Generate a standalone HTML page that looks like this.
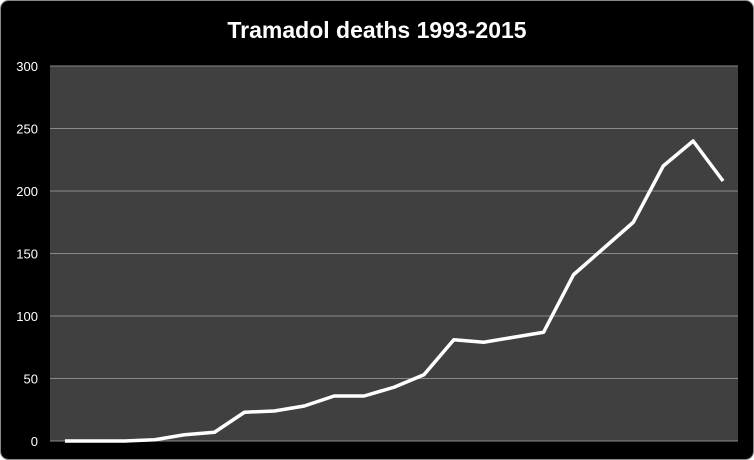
<!DOCTYPE html>
<html><head><meta charset="utf-8"><style>
html,body{margin:0;padding:0;background:#fff;}
svg{display:block;}
</style></head><body>
<svg width="754" height="460" viewBox="0 0 754 460">
<rect x="0.5" y="0.5" width="753" height="459" rx="8" fill="#000" stroke="#888"/>
<text x="377" y="38" text-anchor="middle" fill="#fff" font-family="Liberation Sans, sans-serif" font-weight="bold" font-size="23">Tramadol deaths 1993-2015</text>
<rect x="50" y="66" width="688" height="375" fill="#404040"/>
<g id="grid"></g><g id="ylabels"></g>
<polyline id="line" fill="none" stroke="#fff" stroke-width="3.5" stroke-linejoin="round"/>
</svg>
<script>
const years=[1993,1994,1995,1996,1997,1998,1999,2000,2001,2002,2003,2004,2005,2006,2007,2008,2009,2010,2011,2012,2013,2014,2015];
const deaths=[0,0,0,1,5,7,23,24,28,36,36,43,53,81,79,83,87,133,154,175,220,240,208];
const yTicks=[0,50,100,150,200,250,300];
const ns="http://www.w3.org/2000/svg";
const X0=50,X1=738,Y0=441,Y1=66,YMAX=300;
function xs(i){return X0+(X1-X0)/years.length*(i+0.5);}
function ys(v){return Y0-(Y0-Y1)*v/YMAX;}
const grid=document.getElementById('grid'),yl=document.getElementById('ylabels');
yTicks.forEach(t=>{
 const l=document.createElementNS(ns,'line');
 l.setAttribute('x1',X0);l.setAttribute('x2',X1);l.setAttribute('y1',ys(t));l.setAttribute('y2',ys(t));
 l.setAttribute('stroke','#8a8a8a');l.setAttribute('stroke-width','1');
 
 
 grid.appendChild(l);
 const tx=document.createElementNS(ns,'text');
 tx.setAttribute('x',38);tx.setAttribute('y',ys(t)+5);tx.setAttribute('text-anchor','end');
 tx.setAttribute('fill','#fff');tx.setAttribute('font-size','13');tx.setAttribute('font-family','Liberation Sans, sans-serif');
 tx.textContent=t;
 
 
 yl.appendChild(tx);
});
document.getElementById('line').setAttribute('points',deaths.map((v,i)=>xs(i)+','+ys(v)).join(' '));
</script>
</body></html>
